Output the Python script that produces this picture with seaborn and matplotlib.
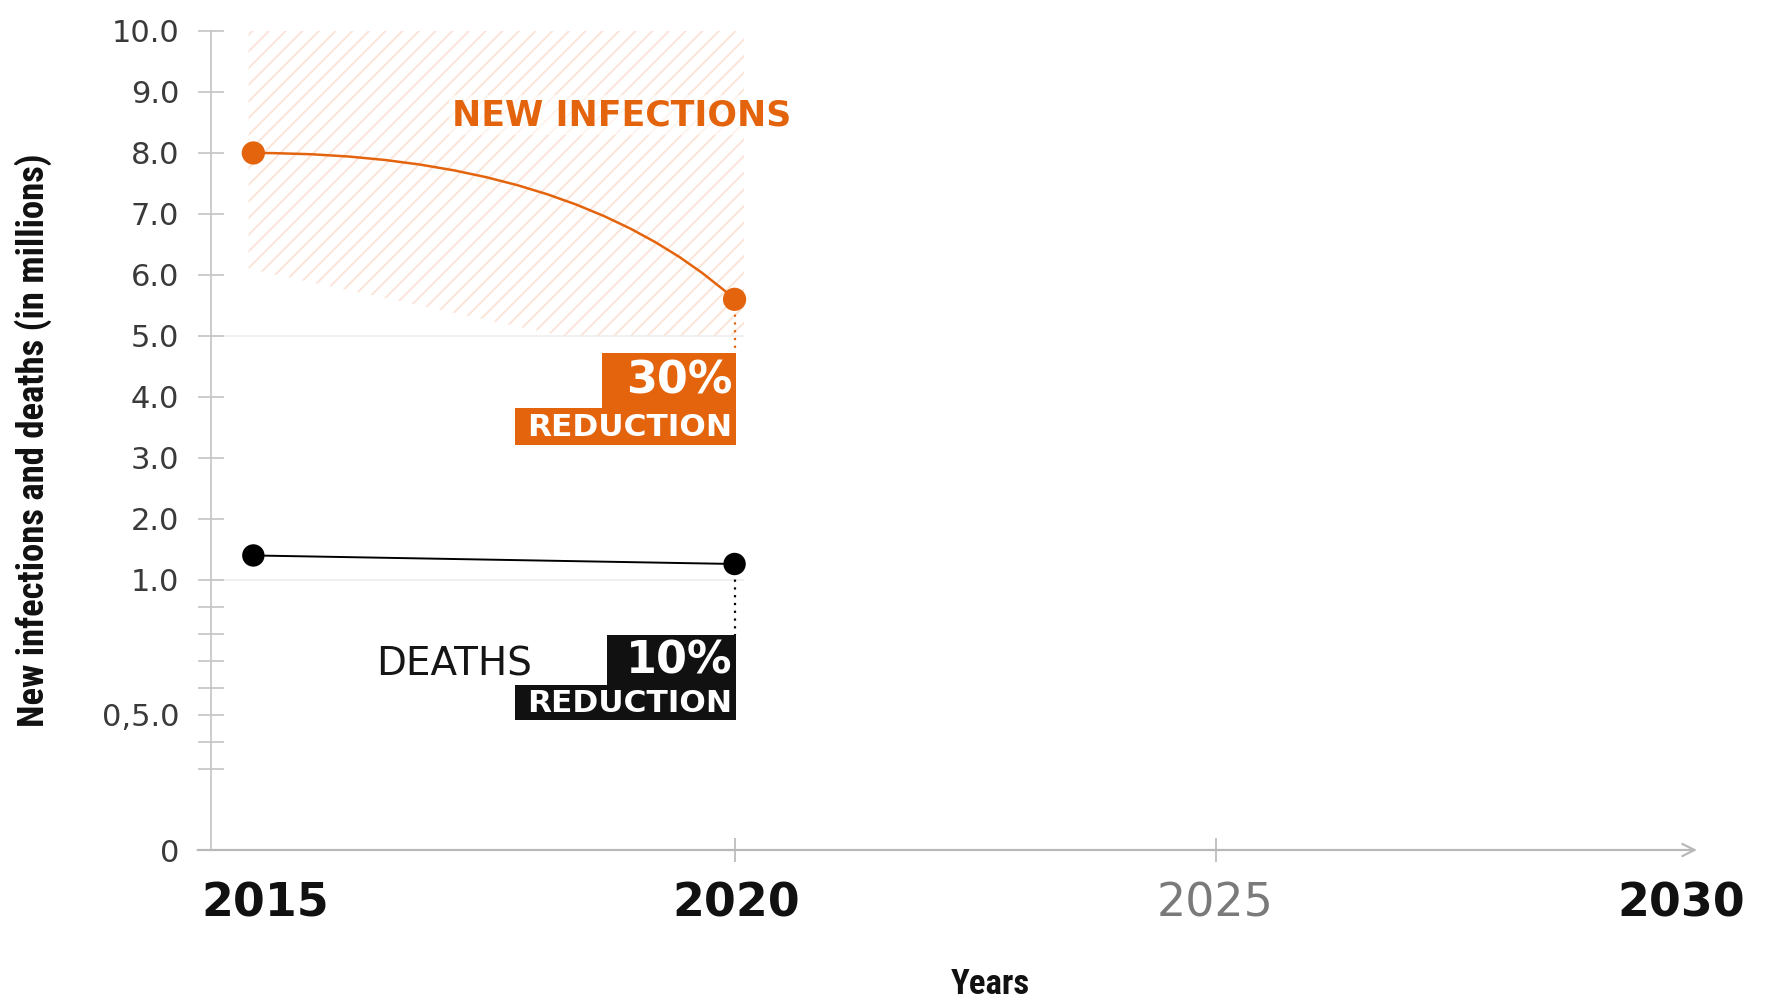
import numpy as np
import matplotlib
matplotlib.use("Agg")
import matplotlib.pyplot as plt
import seaborn as sns
from matplotlib.path import Path
from matplotlib.patches import PathPatch, Polygon, Rectangle
from matplotlib.transforms import ScaledTranslation

# ---- data (millions) ----
years = [2015, 2020]
new_infections = [8.0, 5.6]
deaths = [1.4, 1.26]
infection_cut = "30%"
death_cut = "10%"

x_ticks = [2015, 2020, 2025, 2030]
x_tick_labels = ["2015", "2020", "2025", "2030"]
y_ticks = [0, 0.5, 1, 2, 3, 4, 5, 6, 7, 8, 9, 10]
y_tick_labels = ["0", "0,5.0", "1.0", "2.0", "3.0", "4.0", "5.0",
                 "6.0", "7.0", "8.0", "9.0", "10.0"]
y_minor_ticks = [0.3, 0.4, 0.6, 0.7, 0.8, 0.9]

ORANGE = "#E4640E"
AXIS_GREY = "#c4c4c4"
NARROW = ["Liberation Sans Narrow", "Roboto Condensed", "DejaVu Sans"]

sns.set_theme(style="white")
plt.rcParams["font.family"] = ["DejaVu Sans"]
plt.rcParams["hatch.linewidth"] = 1.3

# ---- broken y scale: 0..1 stretched, 1..10 linear ----
K = 4.43


def fwd(y):
    y = np.asarray(y, dtype=float)
    return np.where(y <= 1, y * K, K + (y - 1))


def inv(v):
    v = np.asarray(v, dtype=float)
    return np.where(v <= K, v / K, 1 + (v - K))


fig = plt.figure(figsize=(17.68, 10), dpi=100)
ax = fig.add_axes([211 / 1768, 150 / 1000, 1486 / 1768, 819 / 1000])
ax.set_yscale("function", functions=(fwd, inv))
ax.set_xlim(2014.56, 2029.72)
ax.set_ylim(0, 10)

for side in ("top", "right", "bottom"):
    ax.spines[side].set_visible(False)
ax.spines["left"].set_color(AXIS_GREY)
ax.spines["left"].set_linewidth(1.2)

# x axis with arrow head
ax.annotate("", xy=(1.0, 0), xytext=(-0.009, 0), xycoords="axes fraction",
            arrowprops=dict(arrowstyle="->", color="#b8b8b8", lw=1.6,
                            mutation_scale=22, shrinkA=0, shrinkB=0))

# hatched target zone
zone = Polygon([(2014.95, 10), (2020.1, 10), (2020.1, 5.0), (2018.2, 5.0),
                (2014.95, 6.1)], closed=True, facecolor="none",
               edgecolor="#fbe4d6", lw=0, hatch="//", zorder=0)
ax.add_patch(zone)

# faint reference lines
ax.hlines([1.0, 5.0], 2014.56, 2020.1, color="#ededed", lw=1.2, zorder=0)

# new infections: smooth curve between the two observations
x0, y0 = years[0], new_infections[0]
x1, y1 = years[1], new_infections[1]
ctrl = (x0 + 0.66 * (x1 - x0), y0)
curve = Path([(x0, y0), ctrl, (x1, y1)], [Path.MOVETO, Path.CURVE3, Path.CURVE3])
ax.add_patch(PathPatch(curve, facecolor="none", edgecolor=ORANGE, lw=1.8, zorder=3))
sns.scatterplot(x=years, y=new_infections, color=ORANGE, s=280,
                edgecolor="none", ax=ax, zorder=5, legend=False)

# deaths
sns.lineplot(x=years, y=deaths, color="black", lw=1.4, ax=ax, zorder=3)
sns.scatterplot(x=years, y=deaths, color="black", s=260,
                edgecolor="none", ax=ax, zorder=5, legend=False)

# dotted drop lines to the reduction badges
ax.plot([years[1], years[1]], [new_infections[1], 4.72], color=ORANGE,
        ls=(0, (1, 2.5)), lw=1.6, zorder=2)
ax.plot([years[1], years[1]], [deaths[1], 0.796], color="black",
        ls=(0, (1, 2.5)), lw=1.6, zorder=2)


def badge(top, mid, bottom, big_left, small_left, right, color, pct):
    ax.add_patch(Rectangle((big_left, mid), right - big_left, top - mid,
                           facecolor=color, edgecolor="none", zorder=4))
    ax.add_patch(Rectangle((small_left, bottom), right - small_left, mid - bottom,
                           facecolor=color, edgecolor="none", zorder=4))
    ax.annotate(pct, xy=(right, (top + mid) / 2), xytext=(-4, -1),
                textcoords="offset pixels", ha="right", va="center",
                color="white", fontsize=32, fontweight="bold", zorder=6)
    ax.annotate("REDUCTION", xy=(right, (mid + bottom) / 2), xytext=(-4, -1),
                textcoords="offset pixels", ha="right", va="center",
                color="white", fontsize=22.5, fontweight="bold", zorder=6)


badge(4.72, 3.82, 3.21, 2018.62, 2017.72, 2020.02, ORANGE, infection_cut)
badge(0.796, 0.61, 0.48, 2018.67, 2017.72, 2020.02, "#111111", death_cut)

ax.text(2017.06, 8.62, "NEW INFECTIONS", ha="left", va="center", color=ORANGE,
        fontsize=25, fontweight="bold", zorder=6,
        bbox=dict(facecolor="white", edgecolor="none", alpha=0.6, pad=2))
ax.text(2017.9, 0.685, "DEATHS", ha="right", va="center", color="#151515",
        fontsize=28, zorder=6)

# y ticks
ax.set_yticks(y_ticks, y_tick_labels)
ax.set_yticks(y_minor_ticks, minor=True)
ax.tick_params(axis="y", which="both", direction="inout", length=19,
               width=1.2, color=AXIS_GREY, left=True)
ax.tick_params(axis="y", which="major", pad=13.5, labelsize=22,
               labelcolor="#3a3a3a")

# x ticks: labels only, tick marks on 2020 and 2025
ax.xaxis.remove_overlapping_locs = False
ax.set_xticks(x_ticks, x_tick_labels)
ax.set_xticks([2020, 2025], minor=True)
ax.tick_params(axis="x", which="major", length=0, pad=23, labelsize=33)
ax.tick_params(axis="x", which="minor", direction="inout", length=17,
               width=1.2, color="#b8b8b8", bottom=True)
shifts = [12, 2, -1, -16]
for lab, dx in zip(ax.get_xticklabels(), shifts):
    lab.set_transform(lab.get_transform() + ScaledTranslation(dx / 100, 0, fig.dpi_scale_trans))
    if lab.get_text() == "2025":
        lab.set_color("#7a7a7a")
        lab.set_fontweight("normal")
    else:
        lab.set_color("#111111")
        lab.set_fontweight("bold")

ax.grid(False)

fig.text(33 / 1768, 0.56, "New infections and deaths (in millions)", rotation=90,
         ha="center", va="center", fontsize=26.5, fontweight="bold",
         fontstretch="condensed", family=NARROW, color="#111111")
fig.text(990 / 1768, 0.016, "Years", ha="center", va="center", fontsize=25,
         fontweight="bold", fontstretch="condensed", family=NARROW, color="#111111")

fig.savefig("out.png", dpi=100)
